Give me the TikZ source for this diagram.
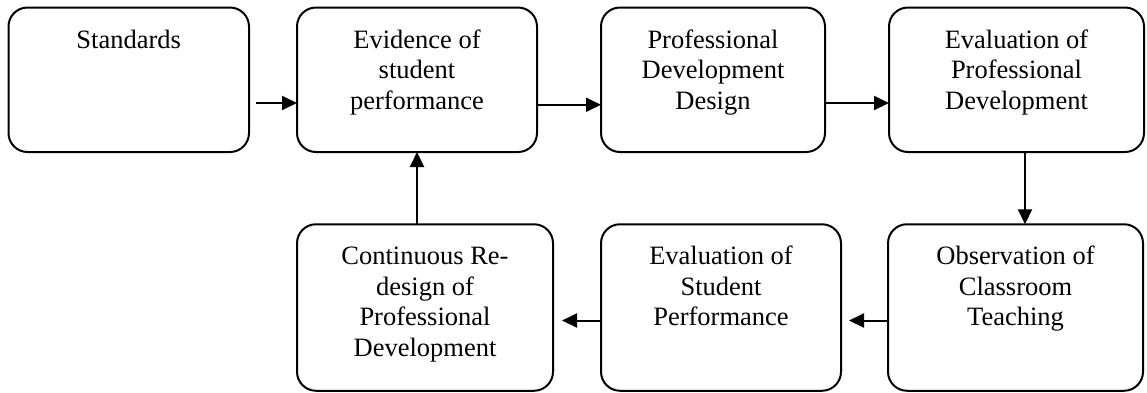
\documentclass[tikz,border=0pt]{standalone}
\usepackage{fontspec}
\setmainfont{Liberation Serif}
\usetikzlibrary{arrows.meta}
\begin{document}
\begin{tikzpicture}[x=1pt,y=-1pt,
  box/.style={draw=black, line width=2pt, rounded corners=19pt, inner sep=0pt, outer sep=0pt},
  lbl/.style={anchor=base, align=center, inner sep=0pt, font=\fontsize{26.5}{30.5}\selectfont},
  arr/.style={draw=black, line width=2pt, -{Triangle[length=15pt,width=14pt]}}]
\useasboundingbox (0,0) rectangle (1147,392);
% top row
\node[box, minimum width=240.5pt, minimum height=144.5pt] (std)  at (128.75,79.75) {};
\node[box, minimum width=240pt,   minimum height=144.5pt] (evid) at (417,79.75) {};
\node[box, minimum width=224pt,   minimum height=144.5pt] (pdd)  at (713,79.75) {};
\node[box, minimum width=255pt,   minimum height=144.5pt] (epd)  at (1016.5,79.75) {};
% bottom row
\node[box, minimum width=256pt, minimum height=166.5pt] (cont) at (425,307.5) {};
\node[box, minimum width=240pt, minimum height=166.5pt] (esp)  at (721,307.5) {};
\node[box, minimum width=255pt, minimum height=166.5pt] (obs)  at (1015.5,307.5) {};
% labels (base anchor = baseline of last line)
\node[lbl] (tstd)  at ([yshift=-40.5pt]std.north)  {Standards};
\node[lbl] (tevid) at ([yshift=-101.5pt]evid.north) {Evidence of\\student\\performance};
\node[lbl] (tpdd)  at ([yshift=-101.5pt]pdd.north)  {Professional\\Development\\Design};
\node[lbl] (tepd)  at ([yshift=-101.5pt]epd.north)  {Evaluation of\\Professional\\Development};
\node[lbl] (tcont) at ([yshift=-132pt]cont.north) {Continuous Re-\\design of\\Professional\\Development};
\node[lbl] (tesp)  at ([yshift=-101.5pt]esp.north)  {Evaluation of\\Student\\Performance};
\node[lbl] (tobs)  at ([yshift=-101.5pt]obs.north)  {Observation of\\Classroom\\Teaching};
% connectors
\draw[arr] ([xshift=7pt,yshift=-23.25pt]std.east) -- ([yshift=-23.25pt]evid.west);
\draw[arr] ([yshift=-25pt]evid.east) -- ([yshift=-25pt]pdd.west);
\draw[arr] ([yshift=-23.25pt]pdd.east) -- ([yshift=-23.25pt]epd.west);
\draw[arr] ([xshift=8.5pt]epd.south) -- ([xshift=9.5pt]obs.north);
\draw[arr, shorten >=8pt] ([yshift=-13pt]obs.west) -- ([yshift=-13pt]esp.east);
\draw[arr, shorten >=9pt] ([yshift=-13pt]esp.west) -- ([yshift=-13pt]cont.east);
\draw[arr] ([xshift=-8pt]cont.north) -- (evid.south);
\end{tikzpicture}
\end{document}
